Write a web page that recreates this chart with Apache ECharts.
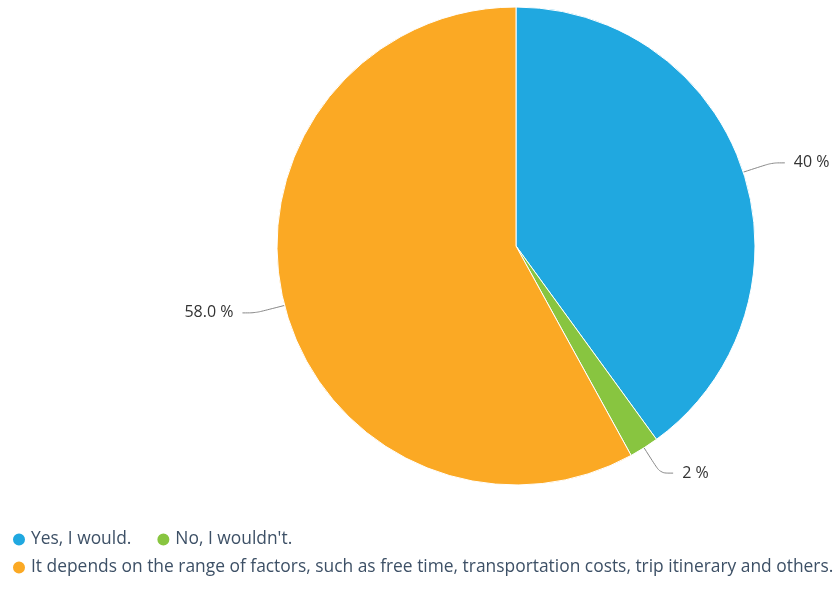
<!DOCTYPE html>
<html><head><meta charset="utf-8">
<script src="https://cdn.jsdelivr.net/npm/echarts@6/dist/echarts.min.js"></script>
<style>html,body{margin:0;padding:0;background:#fff}#c{width:840px;height:607px}</style>
</head><body><div id="c"></div>
<script>
const categories = ["Yes, I would.", "No, I wouldn't.", "It depends on the range of factors, such as free time, transportation costs, trip itinerary and others."];
const values = [40, 2, 58];
const labels = ["40 %", "2 %", "58.0 %"];
const colors = ["#20a8e0", "#88c540", "#fba924"];

const legendText = { color: '#3d5066', fontSize: 17.4, fontFamily: 'Open Sans' };
const chart = echarts.init(document.getElementById('c'));
chart.setOption({
  animation: false,
  color: colors,
  legend: [{
    left: 6, top: 526,
    icon: 'circle', itemWidth: 14, itemHeight: 14, itemGap: 24,
    textStyle: legendText,
    data: categories.slice(0, 2)
  }, {
    left: 6, top: 554,
    icon: 'circle', itemWidth: 14, itemHeight: 14, itemGap: 24,
    textStyle: legendText,
    data: categories.slice(2)
  }],
  series: [{
    type: 'pie',
    center: [516, 246],
    radius: [0, 239],
    startAngle: 90,
    clockwise: true,
    itemStyle: { borderColor: '#fff', borderWidth: 1 },
    label: {
      formatter: p => labels[p.dataIndex],
      color: '#333',
      fontSize: 16,
      fontFamily: 'Open Sans',
      overflow: 'none',
      distanceToLabelLine: 9
    },
    labelLine: { length: 30, length2: 13, smooth: 0.3, lineStyle: { color: '#888', width: 1 } },
    data: categories.map((c, i) => ({ name: c, value: values[i] }))
  }]
});
</script></body></html>
